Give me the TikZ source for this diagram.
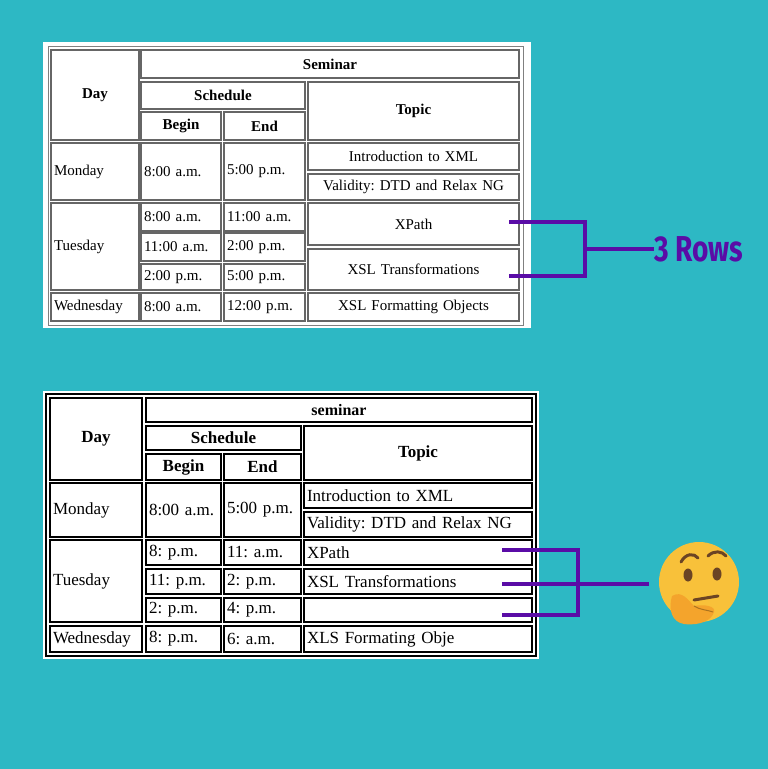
\documentclass[tikz,border=0pt]{standalone}
\usepackage{fontspec}
\setmainfont{Liberation Serif}
\newfontfamily\labelfont{Fira Sans}
\definecolor{backG}{HTML}{2DB8C4}
\definecolor{brk}{HTML}{5A0CA6}
\definecolor{face}{HTML}{F8C13A}
\definecolor{hand}{HTML}{F4A42C}
\definecolor{feat}{HTML}{6B4424}
\newcommand\cellbox[7]{%
	\pgfmathsetmacro\cw{#5-#3}\pgfmathsetmacro\ch{#6-#4}%
	\node[#1, minimum width=\cw pt, minimum height=\ch pt, text width=\cw pt-6pt]
	(#2) at ({(#3+#5)/2},{(#4+#6)/2}) {#7};}
\frenchspacing
\begin{document}
\begin{tikzpicture}[x=1pt,y=-1pt,
	topc/.style={
		draw=gray!80!black,
		line width=1.2pt,
		fill=white,
		inner xsep=3pt,
		align=center,
		font=\fontsize{15}{15}\selectfont
	},
	toph/.style={topc, font=\bfseries\fontsize{15}{15}\selectfont},
	botc/.style={
		draw=black,
		line width=1.4pt,
		fill=white,
		inner xsep=2pt,
		align=left,
		font=\fontsize{17}{17}\selectfont
	},
	both/.style={botc, align=center, font=\bfseries\fontsize{17}{17}\selectfont},
	bracket/.style={draw=brk, line width=4pt}
	]
	\useasboundingbox (0,0) rectangle (768,769);
	\fill[backG] (0,0) rectangle (768,769);

	% upper table
	\fill[white] (43,42) rectangle (531,328);
	\draw[gray, line width=1pt] (48,46) rectangle (523,325);
	\cellbox{toph}{tday}{51}{50}{139}{140}{Day}
	\cellbox{toph}{tsem}{141}{50}{519}{78}{Seminar}
	\cellbox{toph}{tsch}{141}{82}{305}{109}{Schedule}
	\cellbox{toph}{ttop}{308}{82}{519}{140}{Topic}
	\cellbox{toph}{tbeg}{141}{112}{221}{140}{Begin}
	\cellbox{toph}{tend}{224}{112}{305}{140}{End}
	\cellbox{topc,align=left}{tmon}{51}{143}{139}{200}{Monday}
	\cellbox{topc,align=left}{tmonb}{141}{143}{221}{200}{8:00 a.m.}
	\cellbox{topc,align=left}{tmone}{224}{143}{305}{200}{5:00 p.m.}
	\cellbox{topc}{tintro}{308}{143}{519}{170}{Introduction to XML}
	\cellbox{topc}{tvalid}{308}{174}{519}{200}{Validity: DTD and Relax NG}
	\cellbox{topc,align=left}{ttue}{51}{203}{139}{290}{Tuesday}
	\cellbox{topc,align=left}{ttueba}{141}{203}{221}{231}{8:00 a.m.}
	\cellbox{topc,align=left}{ttueea}{224}{203}{305}{231}{11:00 a.m.}
	\cellbox{topc,align=left}{ttuebb}{141}{233}{221}{261}{11:00 a.m.}
	\cellbox{topc,align=left}{ttueeb}{224}{233}{305}{261}{2:00 p.m.}
	\cellbox{topc,align=left}{ttuebc}{141}{264}{221}{290}{2:00 p.m.}
	\cellbox{topc,align=left}{ttueec}{224}{264}{305}{290}{5:00 p.m.}
	\cellbox{topc}{txpath}{308}{203}{519}{245}{XPath}
	\cellbox{topc}{txsl}{308}{249}{519}{290}{XSL Transformations}
	\cellbox{topc,align=left}{twed}{51}{293}{139}{321}{Wednesday}
	\cellbox{topc,align=left}{twedb}{141}{293}{221}{321}{8:00 a.m.}
	\cellbox{topc,align=left}{twede}{224}{293}{305}{321}{12:00 p.m.}
	\cellbox{topc}{txslfo}{308}{293}{519}{321}{XSL Formatting Objects}

	% lower table
	\fill[white] (43,391) rectangle (539,659);
	\draw[black, line width=2pt] (46,394) rectangle (536,656);
	\cellbox{both}{bday}{50}{398}{142}{480}{Day}
	\cellbox{both,font=\bfseries\fontsize{16}{16}\selectfont}{bsem}{146}{398}{532}{422}{seminar}
	\cellbox{both}{bsch}{146}{426}{301}{450}{Schedule}
	\cellbox{both}{btop}{304}{426}{532}{480}{Topic}
	\cellbox{both}{bbeg}{146}{454}{221}{480}{Begin}
	\cellbox{both}{bend}{224}{454}{301}{480}{End}
	\cellbox{botc}{bmon}{50}{483}{142}{537}{Monday}
	\cellbox{botc}{bmonb}{146}{483}{221}{537}{8:00 a.m.}
	\cellbox{botc}{bmone}{224}{483}{301}{537}{5:00 p.m.}
	\cellbox{botc}{bintro}{304}{483}{532}{508}{Introduction to XML}
	\cellbox{botc}{bvalid}{304}{512}{532}{537}{Validity: DTD and Relax NG}
	\cellbox{botc}{btue}{50}{540}{142}{622}{Tuesday}
	\cellbox{botc}{btueba}{146}{540}{221}{565}{8: p.m.}
	\cellbox{botc}{btueea}{224}{540}{301}{565}{11: a.m.}
	\cellbox{botc}{btuebb}{146}{569}{221}{594}{11: p.m.}
	\cellbox{botc}{btueeb}{224}{569}{301}{594}{2: p.m.}
	\cellbox{botc}{btuebc}{146}{598}{221}{622}{2: p.m.}
	\cellbox{botc}{btueec}{224}{598}{301}{622}{4: p.m.}
	\cellbox{botc}{bxpath}{304}{540}{532}{565}{XPath}
	\cellbox{botc}{bxsl}{304}{569}{532}{594}{XSL Transformations}
	\cellbox{botc}{bempty}{304}{598}{532}{622}{}
	\cellbox{botc}{bwed}{50}{626}{142}{652}{Wednesday}
	\cellbox{botc}{bwedb}{146}{626}{221}{652}{8: p.m.}
	\cellbox{botc}{bwede}{224}{626}{301}{652}{6: a.m.}
	\cellbox{botc}{bxslfo}{304}{626}{532}{652}{XLS Formating Obje}

	% brackets
	\node[font=\labelfont\bfseries\fontsize{36}{36}\selectfont, text=brk, inner sep=0pt, anchor=west, xscale=0.78]
	(rows) at (654,249) {3 Rows};
	\coordinate (ta) at (509,222);
	\coordinate (tb) at (509,276);
	\draw[bracket] (ta) -| (585,276) -- (tb);
	\draw[bracket] (585,249) -- (rows.west);

	\node[circle, fill=face, minimum size=80pt, inner sep=0pt] (think) at (699,582) {};
	\coordinate (ba) at (502,550);
	\coordinate (bb) at (502,584);
	\coordinate (bc) at (502,615);
	\draw[bracket] (ba) -| (578,615) -- (bc);
	\draw[bracket] (bb) -- ([xshift=-10pt]bb -| think.west);

	% thinking face details
	\draw[feat, line width=3pt, line cap=round] (681,562) .. controls (686,553) and (694,553) .. (698,558);
	\draw[feat, line width=3pt, line cap=round] (708,556) .. controls (714,550) and (722,551) .. (726,556);
	\fill[feat] (688,575) ellipse (4.5pt and 6.5pt);
	\fill[feat] (717,574) ellipse (4.5pt and 6.5pt);
	\draw[feat, line width=3pt, line cap=round] (694,600) -- (718,596);
	\fill[hand] (672,596) .. controls (668,610) and (672,622) .. (684,624)
		.. controls (700,626) and (712,620) .. (714,612)
		.. controls (716,606) and (704,604) .. (694,606)
		.. controls (688,600) and (682,590) .. (672,596) -- cycle;
	\draw[hand!70!black, line width=1pt] (694,606) .. controls (700,610) and (708,610) .. (713,612);
\end{tikzpicture}
\end{document}
